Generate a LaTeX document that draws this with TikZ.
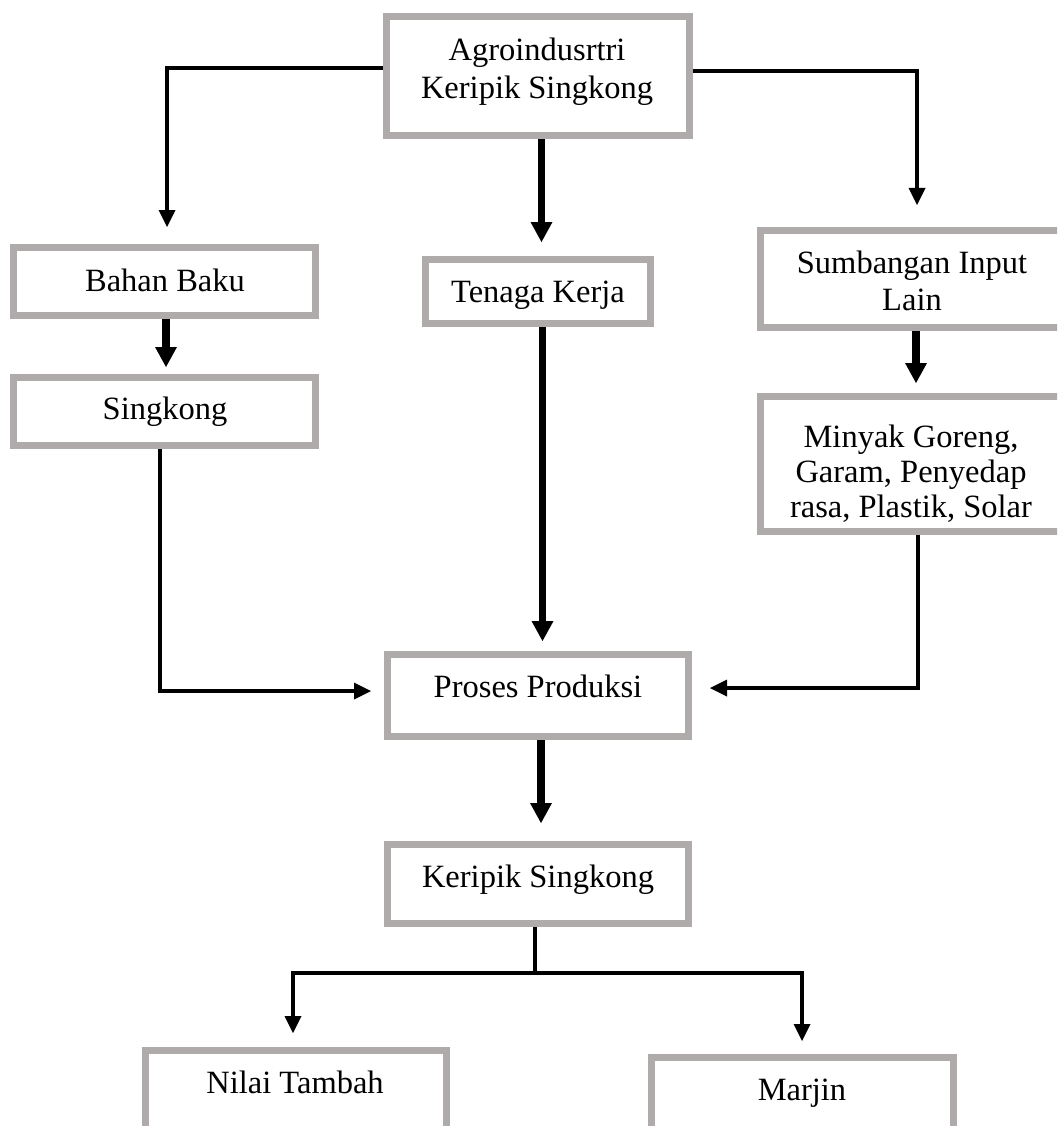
\documentclass[tikz,border=0pt]{standalone}
\usepackage{fontspec}
\setmainfont{Liberation Serif}
\usetikzlibrary{arrows.meta,calc}
\definecolor{boxgray}{RGB}{175,171,171}
\begin{document}
\begin{tikzpicture}[x=1pt,y=-1pt,
  box/.style={draw=boxgray, line width=7pt, rectangle, inner sep=0pt},
  lbl/.style={anchor=base, inner sep=0pt, font=\fontsize{32.5}{38}\selectfont},
  thinln/.style={line width=4pt},
  thinarr/.style={line width=4pt, -{Triangle[width=17pt,length=17pt,line width=0pt]}},
  thickarr/.style={line width=7.5pt, -{Triangle[width=22pt,length=20pt,line width=0pt]}}]
\useasboundingbox (0,0) rectangle (1057,1126);
\clip (0,0) rectangle (1057,1126);
% boxes
\node[box, minimum width=303pt, minimum height=119pt] (top) at (538,76) {};
\node[box, minimum width=302pt, minimum height=68pt] (bahan) at (164.5,281.5) {};
\node[box, minimum width=302pt, minimum height=68pt] (singkong) at (164.5,411.5) {};
\node[box, minimum width=225pt, minimum height=64pt] (tenaga) at (538,291.5) {};
\node[box, minimum width=303pt, minimum height=97pt] (sumbangan) at (912,279) {};
\node[box, minimum width=303pt, minimum height=135pt] (minyak) at (912,464) {};
\node[box, minimum width=301pt, minimum height=82pt] (proses) at (538,695.5) {};
\node[box, minimum width=301pt, minimum height=79pt] (keripik) at (538,884) {};
\node[box, minimum width=301pt, minimum height=106pt] (nilai) at (296,1103.5) {};
\node[box, minimum width=302pt, minimum height=99pt] (marjin) at (802.5,1107) {};
% texts
\node[lbl] (ta) at (537,61) {Agroindusrtri};
\node[lbl] (tb) at (537,99) {Keripik Singkong};
\node[lbl] (tc) at (165,291) {Bahan Baku};
\node[lbl] (td) at (165,419) {Singkong};
\node[lbl] (te) at (538,302) {Tenaga Kerja};
\node[lbl] (tf) at (912,273) {Sumbangan Input};
\node[lbl] (tg) at (912,310) {Lain};
\node[lbl] (th) at (911,447) {Minyak Goreng,};
\node[lbl] (ti) at (911,482) {Garam, Penyedap};
\node[lbl] (tj) at (911,517) {rasa, Plastik, Solar};
\node[lbl] (tk) at (538,697) {Proses Produksi};
\node[lbl] (tl) at (538,887) {Keripik Singkong};
\node[lbl] (tm) at (295,1093) {Nilai Tambah};
\node[lbl] (tn) at (802,1100) {Marjin};
% connectors
\draw[thinarr] ([yshift=8pt]top.west) -| ([xshift=2.5pt,yshift=17pt]bahan.north);
\draw[thinarr] ([yshift=5pt]top.east) -| ([xshift=5pt,yshift=22pt]sumbangan.north);
\draw[thickarr] ([xshift=3.5pt]top.south) -- ([xshift=3.5pt,yshift=14pt]tenaga.north);
\draw[thickarr] ([xshift=1.5pt]bahan.south) -- ([xshift=1.5pt,yshift=7pt]singkong.north);
\draw[thickarr] ([xshift=4pt]sumbangan.south) -- ([xshift=4pt,yshift=10pt]minyak.north);
\draw[thickarr] ([xshift=4.5pt]tenaga.south) -- ([xshift=4.5pt,yshift=10pt]proses.north);
\draw[thinarr] ([xshift=-4.5pt]singkong.south) |- ([xshift=-13pt,yshift=4.5pt]proses.west);
\draw[thinarr] ([xshift=6pt]minyak.south) |- ([xshift=18pt,yshift=7.5pt]proses.east);
\draw[thickarr] ([xshift=3pt]proses.south) -- ([xshift=3pt,yshift=18pt]keripik.north);
\coordinate (jn) at (535,973);
\draw[thinln] ([xshift=-3pt]keripik.south) -- (jn);
\draw[thinarr] (jn) -| ([xshift=-3pt,yshift=14pt]nilai.north);
\draw[thinarr] (jn) -| ([xshift=-0.5pt,yshift=13pt]marjin.north);
\end{tikzpicture}
\end{document}
